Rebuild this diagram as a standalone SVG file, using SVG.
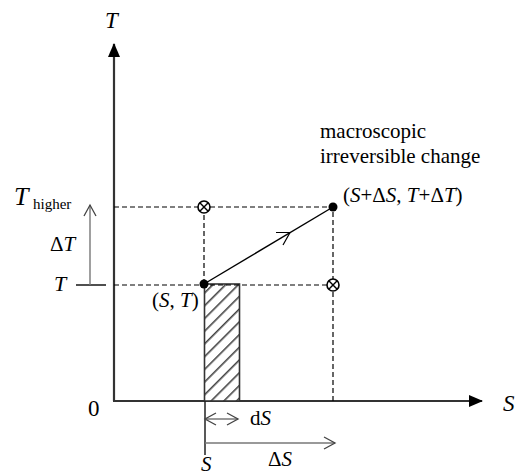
<svg xmlns="http://www.w3.org/2000/svg" width="531" height="476" viewBox="0 0 531 476">
<style>
text{font-family:"Liberation Serif","Times New Roman",serif;font-size:21px;fill:#000}
.i{font-style:italic}
.ax{stroke:#333;stroke-width:2.2;fill:none}
.dash{stroke:#000;stroke-width:1.2;stroke-dasharray:5,3;fill:none}
.gray{stroke:#777;stroke-width:1.4;fill:none}
.mk{stroke:#000;stroke-width:1.6;fill:#fff}
</style>
<defs>
<marker id="solid" markerWidth="14" markerHeight="12" refX="13" refY="6" orient="auto" markerUnits="userSpaceOnUse">
<path d="M0,0 L14,6 L0,12 Z" fill="#000"/>
</marker>
<marker id="open" markerWidth="14" markerHeight="14" refX="12" refY="7" orient="auto" markerUnits="userSpaceOnUse">
<path d="M1,1 L12,7 L1,13" fill="none" stroke="#444" stroke-width="1.3"/>
</marker>
<marker id="openS" markerWidth="14" markerHeight="14" refX="2" refY="7" orient="auto" markerUnits="userSpaceOnUse">
<path d="M13,1 L2,7 L13,13" fill="none" stroke="#444" stroke-width="1.3"/>
</marker>
<pattern id="hatch" patternUnits="userSpaceOnUse" width="9" height="9" patternTransform="rotate(45)">
<rect width="9" height="9" fill="#fff"/>
<line x1="0" y1="0" x2="0" y2="9" stroke="#444" stroke-width="3.2"/>
</pattern>
</defs>

<g id="axes">
<line class="ax" x1="114" y1="401" x2="114" y2="44" marker-end="url(#solid)"/>
<line class="ax" x1="113" y1="401" x2="482" y2="401" marker-end="url(#solid)"/>
<text class="i" x="105" y="28" style="font-size:23px">T</text>
<text x="88" y="416" style="font-size:23px">0</text>
<text class="i" x="503" y="411" style="font-size:23px">S</text>
</g>

<g id="hatched-area">
<rect x="204.5" y="284" width="35" height="117" fill="url(#hatch)" stroke="#333" stroke-width="1.6"/>
</g>

<g id="connectors">
<polyline class="dash" points="114,207 333,207 333,401"/>
<polyline class="dash" points="114,285 333,285"/>
<line class="dash" x1="204" y1="207" x2="204" y2="285"/>
<line x1="204" y1="284" x2="333" y2="207" stroke="#000" stroke-width="1.4"/>
<path d="M276,232.5 L290,232.5 L283,245" fill="none" stroke="#000" stroke-width="1.2"/>
<line x1="76" y1="285" x2="106" y2="285" stroke="#222" stroke-width="1.6"/>
<line class="gray" x1="90" y1="285" x2="90" y2="205" marker-end="url(#open)"/>
<line x1="205" y1="401" x2="205" y2="455" stroke="#222" stroke-width="1.5"/>
<line class="gray" x1="205" y1="419" x2="238" y2="419" marker-start="url(#openS)" marker-end="url(#open)"/>
<line class="gray" x1="205" y1="443" x2="335" y2="443" marker-end="url(#open)"/>
</g>

<g id="node-start">
<circle cx="204" cy="284" r="4.5" fill="#000"/>
<text x="152" y="307">(<tspan class="i">S</tspan>, <tspan class="i">T</tspan>)</text>
</g>
<g id="node-end">
<circle cx="333" cy="207" r="4.5" fill="#000"/>
<text x="343" y="202">(<tspan class="i">S</tspan>+Δ<tspan class="i">S</tspan>, <tspan class="i">T</tspan>+Δ<tspan class="i">T</tspan>)</text>
</g>
<g id="node-cross-upper">
<circle class="mk" cx="204" cy="207" r="6"/>
<path d="M199.8,202.8 L208.2,211.2 M208.2,202.8 L199.8,211.2" stroke="#000" stroke-width="1.4"/>
</g>
<g id="node-cross-lower">
<circle class="mk" cx="333" cy="285" r="6"/>
<path d="M328.8,280.8 L337.2,289.2 M337.2,280.8 L328.8,289.2" stroke="#000" stroke-width="1.4"/>
</g>

<g id="labels">
<text x="320" y="138">macroscopic</text>
<text x="320" y="163">irreversible change</text>
<text class="i" x="14" y="205" style="font-size:26px">T</text>
<text x="33" y="209" style="font-size:15px">higher</text>
<text x="50" y="251">Δ<tspan class="i">T</tspan></text>
<text class="i" x="54" y="291" style="font-size:22px">T</text>
<text x="250" y="425">d<tspan class="i">S</tspan></text>
<text x="268" y="466">Δ<tspan class="i">S</tspan></text>
<text class="i" x="201" y="471">S</text>
</g>
</svg>
